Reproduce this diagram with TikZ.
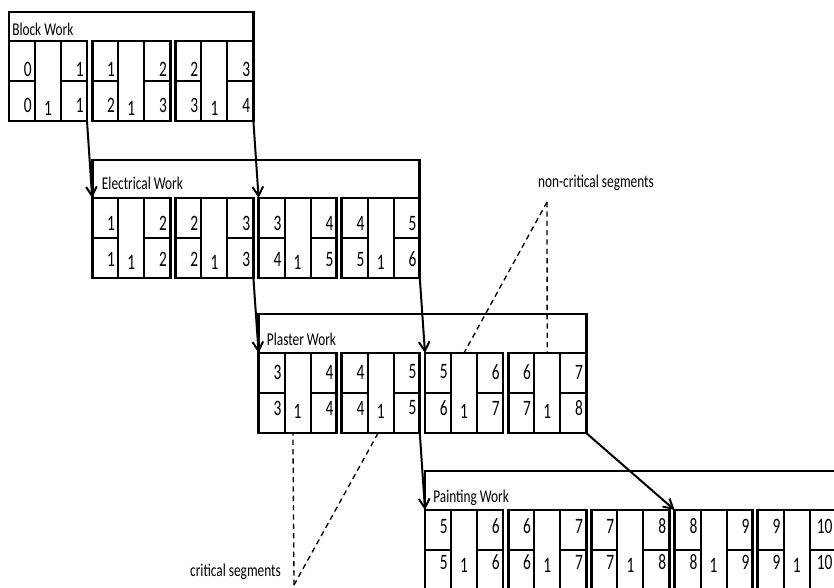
\documentclass[tikz,border=0pt]{standalone}
\usepackage{fontspec}
\setmainfont{Carlito}
\usetikzlibrary{arrows.meta,calc}

% condensed text, as in the drawing
\newcommand{\lbl}[1]{\scalebox{0.74}[1]{\fontsize{13.5}{13.5}\selectfont #1}}
\newcommand{\dig}[1]{\scalebox{0.7}[1]{\fontsize{16.5}{16.5}\selectfont #1}}

\tikzset{
  segbox/.style={draw, line width=2pt, inner sep=0pt, outer sep=0pt,
    minimum width=58.5pt, minimum height=60pt, anchor=north west},
  cell/.style={line width=1.5pt},
  frame/.style={line width=2pt},
  digit/.style={inner sep=0pt},
  title/.style={inner sep=0pt, anchor=base west},
  flow/.style={line width=1.5pt, -{Straight Barb[length=7pt,width=8pt,line width=1.5pt]}},
  guide/.style={line width=1pt, dash pattern=on 4pt off 3pt},
}

% one segment: name, x, y (top), ES, EF, LS, duration, LF, text shift
\newcommand{\actseg}[9]{%
  \node[segbox] (#1) at (#2,#3) {};
  \draw[cell] (#2+26,#3) -- (#2+26,#3+80);
  \draw[cell] (#2+52,#3) -- (#2+52,#3+80);
  \draw[cell] (#2,#3+40) -- (#2+26,#3+40);
  \draw[cell] (#2+52,#3+40) -- (#2+78,#3+40);
  \node[digit, anchor=east] (#1-es) at (#2+23,#3+28-#9) {\dig{#4}};
  \node[digit, anchor=east] (#1-ef) at (#2+75,#3+28-#9) {\dig{#5}};
  \node[digit, anchor=east] (#1-ls) at (#2+23,#3+64-#9) {\dig{#6}};
  \node[digit] (#1-du) at (#2+39,#3+67-#9) {\dig{#7}};
  \node[digit, anchor=east] (#1-lf) at (#2+75,#3+64-#9) {\dig{#8}};
}

\begin{document}
\begin{tikzpicture}[x=0.75pt,y=0.75pt,yscale=-1,xscale=1]
\useasboundingbox (0,0) rectangle (834,587);
\clip (0,0) rectangle (834,587);

%Block Work
\draw[frame] (9,41) -- (9,12) -- (253.4,12) -- (253.4,41);
\node[title] (bw-t) at (12,35) {\lbl{Block Work}};
\actseg{bw1}{9}{41}{0}{1}{0}{1}{1}{0}
\actseg{bw2}{92.2}{41}{1}{2}{2}{1}{3}{0}
\actseg{bw3}{175.4}{41}{2}{3}{3}{1}{4}{0}

%Electrical Work
\draw[frame] (92.2,198) -- (92.2,160) -- (419.8,160) -- (419.8,198);
\node[title] (ew-t) at (101.7,189) {\lbl{Electrical Work}};
\actseg{ew1}{92.2}{198}{1}{2}{1}{1}{2}{2.5}
\actseg{ew2}{175.4}{198}{2}{3}{2}{1}{3}{2.5}
\actseg{ew3}{258.6}{198}{3}{4}{4}{1}{5}{2.5}
\actseg{ew4}{341.8}{198}{4}{5}{5}{1}{6}{2.5}

%Plaster Work
\draw[frame] (258.6,353) -- (258.6,314) -- (586.2,314) -- (586.2,353);
\node[title] (pw-t) at (266.7,345) {\lbl{Plaster Work}};
\actseg{pw1}{258.6}{353}{3}{4}{3}{1}{4}{9}
\actseg{pw2}{341.8}{353}{4}{5}{4}{1}{5}{9}
\actseg{pw3}{425}{353}{5}{6}{6}{1}{7}{9}
\actseg{pw4}{508.2}{353}{6}{7}{7}{1}{8}{9}

%Painting Work
\draw[frame] (425,510) -- (425,471) -- (850,471);
\node[title] (pa-t) at (433,502) {\lbl{Painting Work}};
\actseg{pa1}{425}{510}{5}{6}{5}{1}{6}{11.5}
\actseg{pa2}{508.2}{510}{6}{7}{6}{1}{7}{11.5}
\actseg{pa3}{591.4}{510}{7}{8}{7}{1}{8}{11.5}
\actseg{pa4}{674.6}{510}{8}{9}{8}{1}{9}{11.5}
\actseg{pa5}{757.8}{510}{9}{10}{9}{1}{10}{11.5}

%Links
\draw[flow] (bw1.south east) -- (ew1.north west);
\draw[flow] (bw3.south east) -- (ew3.north west);
\draw[flow] (ew2.south east) -- (pw1.north west);
\draw[flow] (ew4.south east) -- (pw3.north west);
\draw[flow] (pw2.south east) -- (pa1.north west);
\draw[flow] (pw4.south east) -- (pa4.north west);

% Text Node
\node[inner sep=0pt] (noncrit) at (596,183) {\lbl{non-critical segments}};
\coordinate (nc) at (547,202);
\draw[guide] (nc) -- (pw3.north);
\draw[guide] (nc) -- (pw4.north);

% Text Node
\node[inner sep=0pt] (crit) at (235.5,572) {\lbl{critical segments}};
\coordinate (cr) at (294,585);
\draw[guide] (cr) -- ([xshift=-3.5pt]pw1.south);
\draw[guide] (cr) -- ([xshift=-2pt]pw2.south);

\end{tikzpicture}
\end{document}
